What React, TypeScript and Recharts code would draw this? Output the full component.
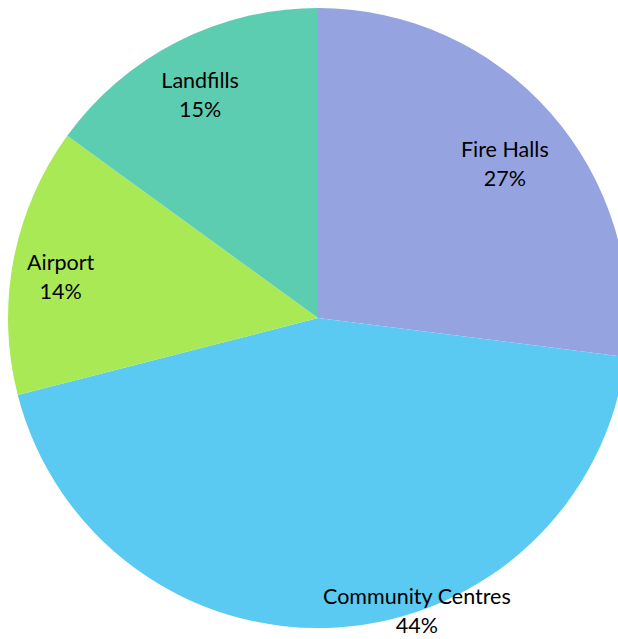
import React from 'react';
import { PieChart, Pie, Cell } from 'recharts';

const categories = ['Fire Halls', 'Community Centres', 'Airport', 'Landfills'];
const shares = [27, 44, 14, 15];
const colors = ['#95A4E0', '#5BCAF2', '#A9E955', '#5DCDB2'];

// Excel "best fit" label placement: radius fraction and angle tweak (deg, clockwise)
const labelLayout = [
  { r: 0.78, shift: 2 },
  { r: 1.0, shift: -15 },
  { r: 0.84, shift: -2 },
  { r: 0.81, shift: -1 },
];

const data = categories.map((name, i) => ({ name, value: shares[i] }));

const RAD = Math.PI / 180;

const renderLabel = (props: any) => {
  const { cx, cy, midAngle, outerRadius, index, name, value } = props;
  const lay = labelLayout[index];
  // recharts angles are counter-clockwise from 3 o'clock
  const ang = midAngle - lay.shift;
  const r = outerRadius * lay.r;
  const x = cx + r * Math.cos(-ang * RAD);
  const y = cy + r * Math.sin(-ang * RAD);
  return (
    <text
      x={x}
      y={y}
      textAnchor="middle"
      fill="#000"
      style={{ fontFamily: 'Lato, "Noto Sans", sans-serif', fontSize: 21.5 }}
    >
      <tspan x={x} y={y - 16} dominantBaseline="central">{name}</tspan>
      <tspan x={x} y={y + 13} dominantBaseline="central">{`${value}%`}</tspan>
    </text>
  );
};

export default function App() {
  return (
    <div style={{ position: 'absolute', left: 0, top: 0, width: 618, height: 639, overflow: 'hidden', background: '#fff' }}>
      <PieChart width={618} height={639} margin={{ top: 0, right: 0, bottom: 0, left: 0 }} style={{ overflow: 'visible' }}>
        <Pie
          data={data}
          dataKey="value"
          nameKey="name"
          cx={318}
          cy={318}
          outerRadius={310}
          startAngle={90}
          endAngle={-270}
          stroke="none"
          label={renderLabel}
          labelLine={false}
          isAnimationActive={false}
        >
          {data.map((d, i) => (
            <Cell key={d.name} fill={colors[i]} />
          ))}
        </Pie>
      </PieChart>
    </div>
  );
}
